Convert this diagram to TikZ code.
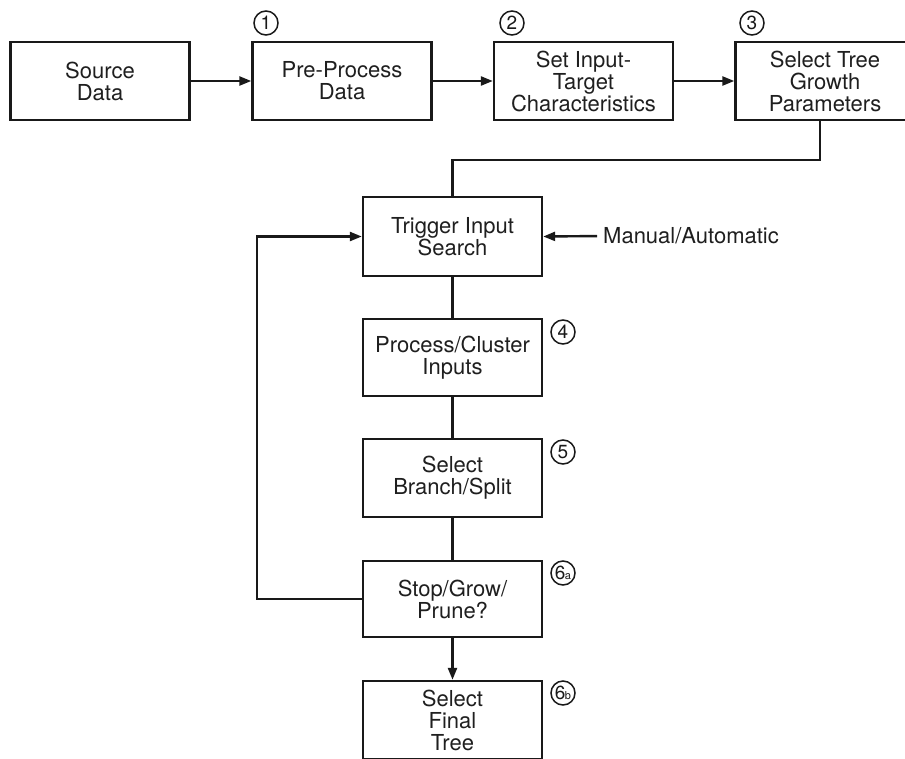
\documentclass[tikz,border=0pt]{standalone}
\usepackage{fontspec}
\setmainfont{TeX Gyre Heros}
\usetikzlibrary{arrows.meta}

\tikzset{
  box/.style={draw=black!90, line width=2.4pt, minimum width=179pt, minimum height=78pt,
    inner sep=0pt, align=center, text=black!88,
    font=\fontsize{22}{22}\selectfont},
  link/.style={draw=black!90, line width=2.4pt},
  arr/.style={link, -{Triangle[length=12pt, width=9pt]}},
  stepno/.style={circle, draw=black!90, line width=1.5pt, minimum size=24pt, inner sep=0pt,
    text=black!90, font=\fontsize{19}{19}\selectfont},
  label/.style={text=black!88, font=\fontsize{22}{22}\selectfont, inner sep=0pt}
}

\begin{document}
\begin{tikzpicture}[x=1pt, y=-1pt]
  \useasboundingbox (0,0) rectangle (905,758);
  \fill[white] (0,0) rectangle (905,758);
  \clip (0,0) rectangle (905,758);

  % top row
  \node[box] (src) at (100,81)   {Source\\Data};
  \node[box] (pre) at (342,81)   {Pre-Process\\Data};
  \node[box] (set) at (583.5,81) {Set Input-\\Target\\Characteristics};
  \node[box] (sel) at (825,81)   {Select Tree\\Growth\\Parameters};

  % vertical chain
  \node[box, minimum height=79pt] (trig) at (452.5,236.5) {Trigger Input\\Search};
  \node[box, minimum height=77pt] (proc) at (452.5,357.5) {Process/Cluster\\Inputs};
  \node[box] (branch) at (452.5,478) {Select\\Branch/Split};
  \node[box, minimum height=76pt] (stop) at (452.5,599) {Stop/Grow/\\Prune?};
  \node[box] (final) at (452.5,720) {Select\\Final\\Tree};

  \node[label, anchor=west] (man) at (603,236) {Manual/Automatic};

  % step numbers
  \node[stepno] (n1) at (266,23) {1};
  \node[stepno] (n2) at (512,23) {2};
  \node[stepno] (n3) at (752,23) {3};
  \node[stepno] (n4) at (563,332) {4};
  \node[stepno] (n5) at (563,452) {5};
  \node[stepno] (n6a) at (563,573) {6\kern-0.5pt{\fontsize{11}{11}\selectfont a}};
  \node[stepno] (n6b) at (563,693) {6\kern-0.5pt{\fontsize{11}{11}\selectfont b}};

  % connectors
  \draw[arr] (src) -- (pre);
  \draw[arr] (pre) -- (set);
  \draw[arr] (set) -- (sel);
  \draw[link] ([xshift=-5pt]sel.south) -- ++(0,39) -| (trig.north);
  \draw[arr, shorten <=6pt] (man.west) -- (trig.east);
  \draw[link] (trig) -- (proc);
  \draw[link] (proc) -- (branch);
  \draw[link] (branch) -- (stop);
  \draw[arr] (stop) -- (final);
  \draw[arr] (stop.west) -- ++(-105,0) |- (trig.west);
\end{tikzpicture}
\end{document}
